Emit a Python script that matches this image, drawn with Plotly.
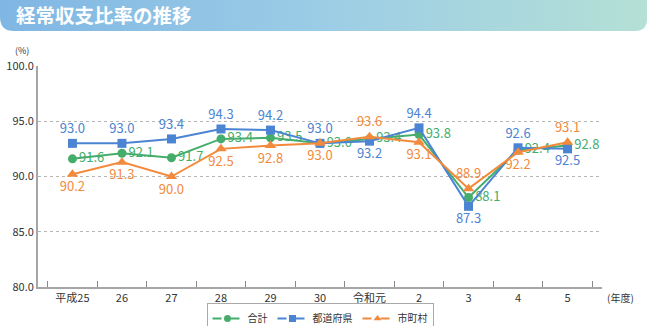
import base64
import plotly.graph_objects as go

categories = ["平成25", "26", "27", "28", "29", "30", "令和元", "2", "3", "4", "5"]
total = [91.6, 92.1, 91.7, 93.4, 93.5, 93.0, 93.4, 93.8, 88.1, 92.4, 92.8]
prefectures = [93.0, 93.0, 93.4, 94.3, 94.2, 93.0, 93.2, 94.4, 87.3, 92.6, 92.5]
municipalities = [90.2, 91.3, 90.0, 92.5, 92.8, 93.0, 93.6, 93.1, 88.9, 92.2, 93.1]
y_ticks = [80, 85, 90, 95, 100]

W, H = 649, 326
L, R, T, B = 38, 47, 66, 39
PW, PH = W - L - R, H - T - B

def px(x):
    return (x - L) / PW

def py(y):
    return (H - B - y) / PH

GREEN = "#45ad6b"
BLUE = "#4a84d2"
ORANGE = "#f28a3c"
FONT = "Noto Sans CJK JP"

blue_pos = ["top center"] * 11
for i in (6, 8, 10):
    blue_pos[i] = "bottom center"
orange_pos = ["bottom center"] * 11
for i in (6, 8, 10):
    orange_pos[i] = "top center"

series = [
    ("合計", total, GREEN, "circle", 9, ["middle right"] * 11),
    ("都道府県", prefectures, BLUE, "square", 9, blue_pos),
    ("市町村", municipalities, ORANGE, "triangle-up", 10, orange_pos),
]

fig = go.Figure()
for name, vals, col, sym, size, pos in series:
    fig.add_trace(go.Scatter(
        x=categories, y=vals, name=name, mode="lines+markers+text", showlegend=False,
        line=dict(color=col, width=2), marker=dict(symbol=sym, size=size, color=col),
        text=[f"{v:.1f}" for v in vals], textposition=pos,
        textfont=dict(color=col, size=13, family=FONT), cliponaxis=False))
# legend-only entries with smaller symbols
for name, vals, col, sym, size, pos in series:
    fig.add_trace(go.Scatter(
        x=[categories[0]], y=[None], name=name, mode="lines+markers", showlegend=True,
        line=dict(color=col, width=2, dash="dash"), marker=dict(symbol=sym, size=7, color=col)))

svg = (
    "<svg xmlns='http://www.w3.org/2000/svg' width='649' height='32' viewBox='0 0 649 32' "
    "preserveAspectRatio='none'><defs><linearGradient id='g' x1='0' x2='1' y1='0' y2='0'>"
    "<stop offset='0' stop-color='#7fb6e3'/><stop offset='0.5' stop-color='#9ccde6'/>"
    "<stop offset='1' stop-color='#b4e0d5'/></linearGradient></defs>"
    "<path d='M0 0 H647 V19 Q647 31 635 31 H14 Q0 31 0 17 Z' fill='url(#g)'/></svg>"
)
src = "data:image/svg+xml;base64," + base64.b64encode(svg.encode()).decode()

fig.update_layout(
    width=W, height=H,
    margin=dict(l=L, r=R, t=T, b=B, autoexpand=False),
    paper_bgcolor="white", plot_bgcolor="white",
    font=dict(family=FONT, color="#333333", size=11),
    showlegend=True,
    legend=dict(orientation="h", x=0.5, xanchor="center", xref="paper",
                y=(H - 303) / H, yanchor="top", yref="container",
                bordercolor="#aaaaaa", borderwidth=1, bgcolor="white",
                font=dict(size=10, family=FONT, color="#333333"),
                itemwidth=30, tracegroupgap=0),
    images=[dict(source=src, xref="paper", yref="paper", x=px(0), y=py(0),
                 sizex=649 / PW, sizey=32 / PH, sizing="stretch",
                 xanchor="left", yanchor="top", layer="below")],
    annotations=[
        dict(text="<b>経常収支比率の推移</b>", xref="paper", yref="paper",
             x=px(14), y=py(15), xanchor="left", yanchor="middle", showarrow=False,
             font=dict(size=19.5, color="white", family=FONT)),
        dict(text="(%)", xref="paper", yref="paper", x=px(13), y=py(50),
             xanchor="left", yanchor="middle", showarrow=False,
             font=dict(size=9, color="#333333", family=FONT)),
        dict(text="(年度)", xref="paper", yref="paper", x=px(605), y=py(297),
             xanchor="left", yanchor="middle", showarrow=False,
             font=dict(size=10, color="#333333", family=FONT)),
    ],
    xaxis=dict(type="category", categoryorder="array", categoryarray=categories,
               showline=True, linecolor="#a6a6a6", linewidth=2,
               ticks="inside", tickson="boundaries", ticklen=6, tickcolor="#888888",
               tickwidth=1, showgrid=False, tickfont=dict(size=11), fixedrange=True),
    yaxis=dict(range=[80, 100], tickvals=y_ticks, tickformat=".1f",
               showline=True, linecolor="#a6a6a6", linewidth=2,
               showgrid=True, gridcolor="#b5b5b5", griddash="dot", gridwidth=1,
               zeroline=False, ticks="", tickfont=dict(size=11), fixedrange=True),
)

fig.write_html("out.html")
